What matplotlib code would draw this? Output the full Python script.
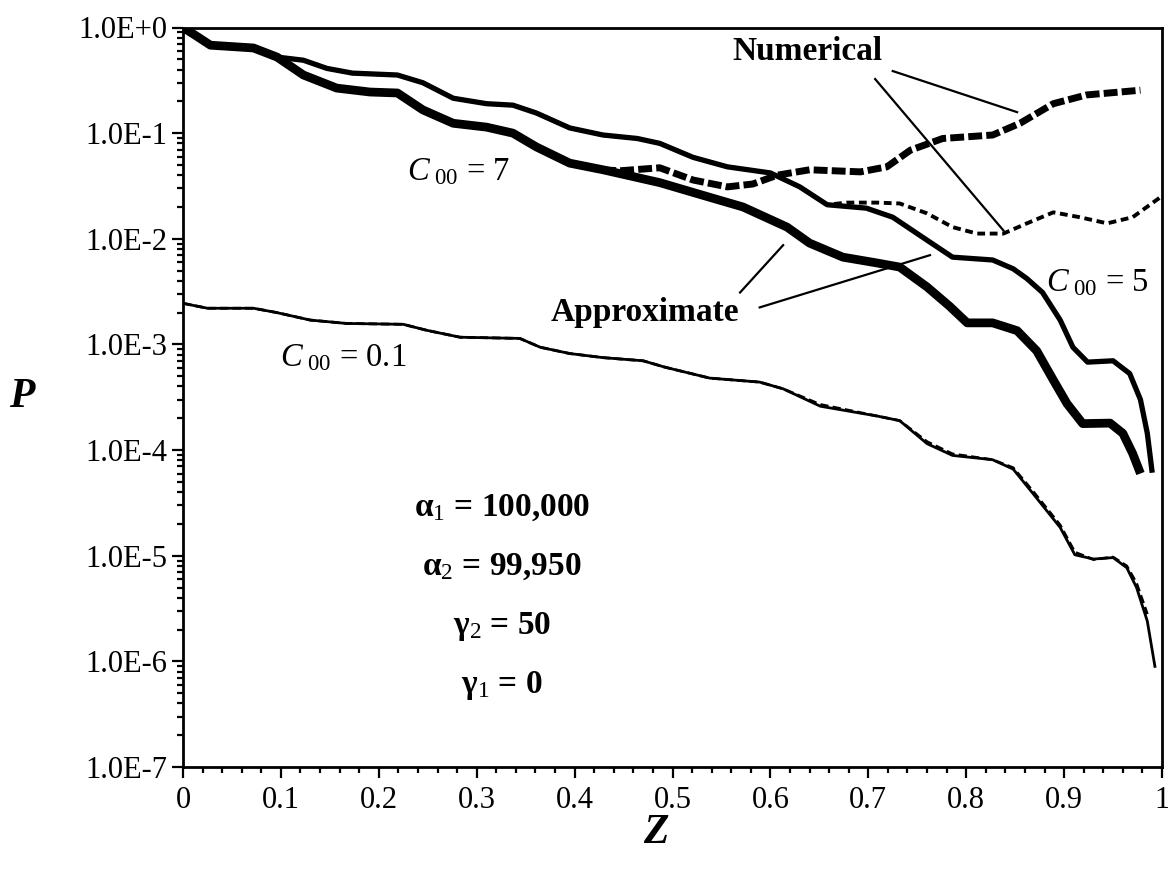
import numpy as np
import matplotlib
matplotlib.use("Agg")
import matplotlib.pyplot as plt
from matplotlib.ticker import FixedLocator, FixedFormatter, LogLocator, MultipleLocator, NullFormatter

# ---------------- data ----------------
# C00 = 7, approximate (thick solid)
x_c7_app = [0.0, 0.012, 0.028, 0.072, 0.096, 0.123, 0.157, 0.191, 0.219, 0.245, 0.276, 0.310, 0.337,
            0.361, 0.395, 0.429, 0.464, 0.487, 0.538, 0.572, 0.617, 0.640, 0.674, 0.709, 0.732,
            0.760, 0.783, 0.801, 0.827, 0.852, 0.872, 0.889, 0.903, 0.919, 0.947, 0.960, 0.970, 0.978]
y_c7_app = [1.0, 0.85, 0.68, 0.64, 0.525, 0.355, 0.267, 0.245, 0.24, 0.166, 0.124, 0.114, 0.10,
            0.074, 0.052, 0.045, 0.038, 0.034, 0.0247, 0.020, 0.0129, 0.0091, 0.0067, 0.0059, 0.0054,
            0.0035, 0.0023, 0.0016, 0.0016, 0.00135, 0.00087, 0.00046, 0.000275, 0.000178, 0.00018,
            0.000144, 0.000093, 0.00006]

# C00 = 7, numerical (thick dashed)
x_c7_num = [0.0, 0.012, 0.028, 0.072, 0.096, 0.123, 0.157, 0.191, 0.219, 0.245, 0.276, 0.310, 0.337,
            0.361, 0.395, 0.429, 0.446, 0.487, 0.521, 0.556, 0.582, 0.607, 0.640, 0.692, 0.719,
            0.743, 0.776, 0.827, 0.855, 0.889, 0.923, 0.957, 0.978]
y_c7_num = [1.0, 0.85, 0.68, 0.64, 0.525, 0.355, 0.267, 0.245, 0.24, 0.166, 0.124, 0.114, 0.10,
            0.074, 0.052, 0.045, 0.044, 0.047, 0.036, 0.031, 0.033, 0.040, 0.045, 0.043, 0.048,
            0.069, 0.089, 0.096, 0.124, 0.19, 0.23, 0.245, 0.255]

# C00 = 5, approximate (medium solid)
x_c5_app = [0.0, 0.012, 0.028, 0.072, 0.096, 0.123, 0.147, 0.173, 0.219, 0.245, 0.276, 0.310, 0.337,
            0.361, 0.395, 0.429, 0.464, 0.487, 0.521, 0.556, 0.600, 0.630, 0.658, 0.698, 0.725,
            0.760, 0.786, 0.827, 0.848, 0.862, 0.878, 0.896, 0.909, 0.924, 0.950, 0.967, 0.978,
            0.985, 0.990]
y_c5_app = [1.0, 0.85, 0.68, 0.64, 0.525, 0.49, 0.41, 0.37, 0.355, 0.30, 0.214, 0.19, 0.184,
            0.155, 0.112, 0.096, 0.089, 0.080, 0.059, 0.048, 0.042, 0.031, 0.021, 0.0195, 0.016,
            0.0097, 0.0067, 0.0063, 0.0052, 0.0042, 0.0031, 0.0017, 0.00094, 0.00068, 0.0007,
            0.00053, 0.0003, 0.000144, 0.000061]

# C00 = 5, numerical (thin dashed)
x_c5_num = [0.0, 0.012, 0.028, 0.072, 0.096, 0.123, 0.147, 0.173, 0.219, 0.245, 0.276, 0.310, 0.337,
            0.361, 0.395, 0.429, 0.464, 0.487, 0.521, 0.556, 0.600, 0.630, 0.658, 0.678, 0.709,
            0.732, 0.760, 0.786, 0.811, 0.838, 0.862, 0.889, 0.916, 0.944, 0.970, 0.998]
y_c5_num = [1.0, 0.85, 0.68, 0.64, 0.525, 0.49, 0.41, 0.37, 0.355, 0.30, 0.214, 0.19, 0.184,
            0.155, 0.112, 0.096, 0.089, 0.080, 0.059, 0.048, 0.042, 0.031, 0.021, 0.022, 0.022,
            0.0216, 0.0174, 0.0129, 0.0112, 0.0112, 0.014, 0.0178, 0.016, 0.014, 0.016, 0.0246]

# C00 = 0.1, approximate (thin solid)
x_c01_app = [0.0, 0.025, 0.072, 0.096, 0.130, 0.167, 0.225, 0.249, 0.283, 0.344, 0.365, 0.395,
             0.429, 0.470, 0.492, 0.538, 0.589, 0.613, 0.651, 0.709, 0.732, 0.760, 0.786, 0.827,
             0.848, 0.868, 0.896, 0.911, 0.930, 0.950, 0.964, 0.974, 0.985, 0.993]
y_c01_app = [0.00245, 0.0022, 0.0022, 0.0020, 0.0017, 0.00158, 0.00155, 0.00136, 0.00117, 0.00114,
             0.00094, 0.00082, 0.00075, 0.0007, 0.00061, 0.00048, 0.00044, 0.00038, 0.00026,
             0.00021, 0.00019, 0.000115, 0.000089, 0.000081, 0.000066, 0.000039, 0.0000185,
             0.0000102, 0.0000093, 0.0000096, 0.0000077, 0.000005, 0.0000024, 0.00000087]

# C00 = 0.1, numerical (thin dashed, nearly coincident)
x_c01_num = [0.0, 0.025, 0.072, 0.096, 0.130, 0.167, 0.225, 0.249, 0.283, 0.344, 0.365, 0.395,
             0.429, 0.470, 0.492, 0.538, 0.589, 0.613, 0.651, 0.709, 0.732, 0.760, 0.786, 0.827,
             0.848, 0.868, 0.896, 0.911, 0.930, 0.950, 0.964, 0.974, 0.985]
y_c01_num = [0.00245, 0.0022, 0.0022, 0.0020, 0.0017, 0.00158, 0.00155, 0.00136, 0.00117, 0.00114,
             0.00094, 0.00082, 0.00075, 0.0007, 0.00061, 0.00048, 0.00044, 0.00038, 0.00027,
             0.00021, 0.00019, 0.00012, 0.000092, 0.000081, 0.000068, 0.000041, 0.0000195,
             0.0000108, 0.0000092, 0.0000097, 0.0000080, 0.0000055, 0.0000028]

# leader lines of the annotations: (x0, y0, x1, y1)
lead_numerical = [(0.725, 0.387, 0.852, 0.158), (0.707, 0.325, 0.838, 0.012)]
lead_approx = [(0.569, 3.1e-3, 0.613, 8.7e-3), (0.589, 2.24e-3, 0.763, 7.0e-3)]

x_ticks = [0, 0.1, 0.2, 0.3, 0.4, 0.5, 0.6, 0.7, 0.8, 0.9, 1.0]
x_tick_labels = ["0", "0.1", "0.2", "0.3", "0.4", "0.5", "0.6", "0.7", "0.8", "0.9", "1"]
y_ticks = [1e-7, 1e-6, 1e-5, 1e-4, 1e-3, 1e-2, 1e-1, 1e0]
y_tick_labels = ["1.0E-7", "1.0E-6", "1.0E-5", "1.0E-4", "1.0E-3", "1.0E-2", "1.0E-1", "1.0E+0"]

param_lines = [r"α$_1$ = 100,000", r"α$_2$ = 99,950", r"γ$_2$ = 50", r"γ$_1$ = 0"]

# ---------------- style ----------------
plt.rcParams["font.family"] = ["Liberation Serif", "DejaVu Serif"]
plt.rcParams["mathtext.fontset"] = "custom"
plt.rcParams["mathtext.rm"] = "Liberation Serif"
plt.rcParams["mathtext.it"] = "Liberation Serif:italic"
plt.rcParams["mathtext.bf"] = "Liberation Serif:bold"

W, H = 1168, 874
fig = plt.figure(figsize=(W / 100, H / 100), dpi=100)
L, R, T, B = 183, 1162, 27.5, 767
ax = fig.add_axes([L / W, 1 - B / H, (R - L) / W, (B - T) / H])

def fx(px):
    return px / W

def fy(py):
    return 1 - py / H

ax.set_yscale("log")
ax.set_xlim(0, 1)
ax.set_ylim(1e-7, 1)

k = "black"
ax.plot(x_c01_app, y_c01_app, color=k, lw=2.0, solid_capstyle="butt")
ax.plot(x_c5_app, y_c5_app, color=k, lw=3.8, solid_capstyle="butt")
ax.plot(x_c7_app, y_c7_app, color=k, lw=6.3, solid_capstyle="butt")
ax.plot(x_c01_num, y_c01_num, color=k, lw=2.0, dashes=(3, 1.5))
ax.plot(x_c5_num, y_c5_num, color=k, lw=2.8, dashes=(2.0, 1.2))
ax.plot(x_c7_num, y_c7_num, color=k, lw=5.0, dashes=(2.0, 0.6))

for x0, y0, x1, y1 in lead_numerical + lead_approx:
    ax.plot([x0, x1], [y0, y1], color=k, lw=1.6)

# axes / ticks
for s in ax.spines.values():
    s.set_linewidth(2.0)
ax.xaxis.set_major_locator(FixedLocator(x_ticks))
ax.xaxis.set_major_formatter(FixedFormatter(x_tick_labels))
ax.xaxis.set_minor_locator(MultipleLocator(0.02))
ax.yaxis.set_major_locator(FixedLocator(y_ticks))
ax.yaxis.set_major_formatter(FixedFormatter(y_tick_labels))
ax.yaxis.set_minor_locator(LogLocator(base=10, subs=np.arange(2, 10), numticks=20))
ax.yaxis.set_minor_formatter(NullFormatter())
ax.tick_params(which="both", direction="out", top=False, right=False, width=1.6,
               labelsize=22, colors=k)
ax.tick_params(which="major", length=8)
ax.tick_params(which="minor", length=4.5)
ax.tick_params(axis="y", pad=3)
ax.tick_params(axis="x", pad=6)

# annotations
fig.text(fx(807), fy(52), "Numerical", fontsize=24, fontweight="bold", ha="center", va="center")
fig.text(fx(645), fy(312), "Approximate", fontsize=24, fontweight="bold", ha="center", va="center")
fig.text(fx(407), fy(180), r"$C_{\ 00}$ = 7", fontsize=23.5, ha="left", va="baseline")
fig.text(fx(1046), fy(291), r"$C_{\ 00}$ = 5", fontsize=23.5, ha="left", va="baseline")
fig.text(fx(280), fy(366), r"$C_{\ 00}$ = 0.1", fontsize=23.5, ha="left", va="baseline")

for txt, base in zip(param_lines, [516, 575, 634, 693]):
    fig.text(fx(502), fy(base), txt, fontsize=24, fontweight="bold", ha="center", va="baseline")

fig.text(fx(22), fy(397), "P", fontsize=30, fontweight="bold", style="italic", ha="center", va="center")
fig.text(fx(656), fy(833), "Z", fontsize=30, fontweight="bold", style="italic", ha="center", va="center")

fig.savefig("out.png", dpi=100, facecolor="white")
